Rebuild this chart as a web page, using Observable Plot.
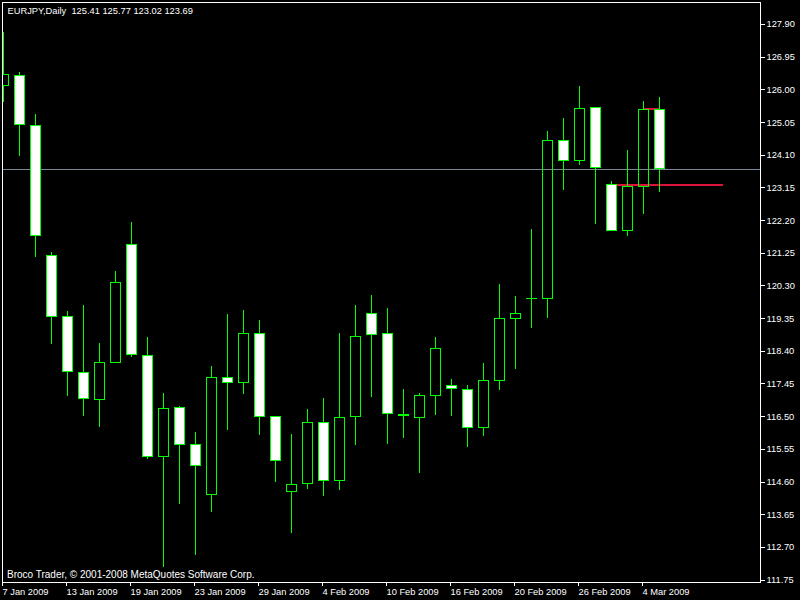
<!DOCTYPE html>
<html><head><meta charset="utf-8">
<script src="https://cdn.jsdelivr.net/npm/d3@7"></script>
<script src="https://cdn.jsdelivr.net/npm/@observablehq/plot@0.6"></script>
<style>
html,body{margin:0;padding:0;background:#000;overflow:hidden;}
svg line, svg rect, svg path { shape-rendering: crispEdges; }
</style>
</head><body><div id="chart"></div>
<script>
const symbol = "EURJPY,Daily";
const footer = "Broco Trader, © 2001-2008 MetaQuotes Software Corp.";

const opens  = [126.12,126.41,124.96,121.18,119.40,117.78,116.98,118.07,121.50,118.27,
                115.32,116.76,115.68,114.22,117.63,117.48,118.91,116.50,114.30,114.55,
                116.32,114.64,116.50,119.49,118.91,116.55,116.47,117.11,117.39,117.28,
                116.16,117.54,119.35,119.92,119.93,124.52,123.93,125.48,123.24,121.90,
                123.18,125.41];
const highs  = [127.66,126.50,125.27,121.27,119.56,119.73,118.63,120.72,122.14,118.80,
                117.17,116.80,116.04,117.96,119.47,119.59,119.30,116.51,115.98,116.71,
                117.03,118.91,119.73,120.02,119.64,117.29,117.17,118.80,117.58,117.40,
                118.05,120.34,119.99,121.94,124.79,125.17,126.10,125.48,123.34,124.24,
                125.66,125.77];
const lows   = [125.64,124.07,121.14,118.61,117.09,116.50,116.19,118.04,118.23,115.26,
                112.12,113.96,112.47,113.72,116.11,117.15,115.96,114.59,113.11,114.39,
                114.19,114.36,115.67,117.07,115.70,115.87,114.86,116.54,116.51,115.61,
                115.93,117.27,117.88,119.07,119.36,123.08,123.81,122.09,121.90,121.75,
                122.39,123.02];
const closes = [126.44,124.98,121.76,119.40,117.79,117.01,118.07,120.39,118.30,115.33,
                116.73,115.67,115.06,117.63,117.48,118.91,116.50,115.22,114.52,116.32,
                114.64,116.47,118.82,118.88,116.58,116.51,117.11,118.47,117.31,116.16,
                117.54,119.35,119.49,119.93,124.52,123.94,125.45,123.73,121.90,123.18,
                125.42,123.69];

const dateTickIndex  = [0,4,8,12,16,20,24,28,32,36,40];
const dateTickLabels = ["7 Jan 2009","13 Jan 2009","19 Jan 2009","23 Jan 2009","29 Jan 2009",
                        "4 Feb 2009","10 Feb 2009","16 Feb 2009","20 Feb 2009","26 Feb 2009","4 Mar 2009"];
const priceTicks = [127.90,126.95,126.00,125.05,124.10,123.15,122.20,121.25,120.30,119.35,
                    118.40,117.45,116.50,115.55,114.60,113.65,112.70,111.75];

const levelPrices = [125.45, 123.23];
const levelFrom   = [40, 38];
const levelTo     = [41, 45];

const n = opens.length;
const lastPrice = closes[n-1];
const bars = opens.map((o,i)=>({i, open:o, high:highs[i], low:lows[i], close:closes[i]}));
const levels = levelPrices.map((p,k)=>({price:p, from:levelFrom[k], to:levelTo[k]}));
const title = `${symbol}\u00a0 ${opens[n-1].toFixed(2)} ${highs[n-1].toFixed(2)} ${lows[n-1].toFixed(2)} ${closes[n-1].toFixed(2)}`;

const GREEN = "#00ff00";
const FONT = "'Liberation Sans', Arial, sans-serif";

const plot = Plot.plot({
  width: 800, height: 600,
  marginLeft: 2, marginTop: 2, marginRight: 40, marginBottom: 18,
  style: {background:"#000", color:"#fff", fontFamily: FONT, fontSize:"9.3px"},
  x: {type:"linear", domain:[-0.0625, 47.3125], axis:null},
  y: {domain:[111.679, 128.54], axis:null},
  marks: [
    Plot.ruleY([lastPrice], {stroke:"#778899"}),
    Plot.ruleY(levels, {y:"price", x1:"from", x2:"to", stroke:"#dc143c", strokeWidth:2}),
    Plot.ruleX(bars, {x:"i", y1:"high", y2:d=>Math.max(d.open,d.close), stroke:GREEN, clip:true}),
    Plot.ruleX(bars, {x:"i", y1:"low", y2:d=>Math.min(d.open,d.close), stroke:GREEN, clip:true}),
    Plot.rect(bars, {x1:d=>d.i-0.3125, x2:d=>d.i+0.3125, y1:"open", y2:"close",
      fill:d=>d.close<d.open ? "#fff" : "none", stroke:GREEN, clip:true}),
    Plot.frame({stroke:"#fff"}),
    Plot.axisY(priceTicks, {anchor:"right", tickSize:4, tickPadding:2, tickFormat:d=>d.toFixed(2)}),
    Plot.axisX(dateTickIndex, {anchor:"bottom", tickSize:4, tickPadding:2,
      tickFormat:d=>dateTickLabels[dateTickIndex.indexOf(d)], textAnchor:"start", dx:-1}),
    Plot.text([title], {frameAnchor:"top-left", dx:5, dy:8.7, lineAnchor:"middle", fill:"#fff"}),
    Plot.text([footer], {frameAnchor:"bottom-left", dx:4.5, dy:-7.5, lineAnchor:"middle", fill:"#fff", fontSize:10}),
    Plot.text([lastPrice], {y:d=>d, text:d=>d.toFixed(2), frameAnchor:"right", textAnchor:"start",
      dx:6, fill:"#000", ariaLabel:"last-price"})
  ]
});
document.getElementById("chart").appendChild(plot);

// white label box behind the last price
const lp = plot.querySelector('g[aria-label="last-price"] text');
if (lp) {
  const bb = lp.getBBox();
  const r = document.createElementNS("http://www.w3.org/2000/svg","rect");
  r.setAttribute("x", bb.x - 4);
  r.setAttribute("y", bb.y - 0.5);
  r.setAttribute("width", bb.width + 8);
  r.setAttribute("height", bb.height + 1);
  r.setAttribute("fill", "#fff");
  const tr = lp.getAttribute("transform");
  if (tr) r.setAttribute("transform", tr);
  lp.parentNode.insertBefore(r, lp);
}
</script>
</body></html>
